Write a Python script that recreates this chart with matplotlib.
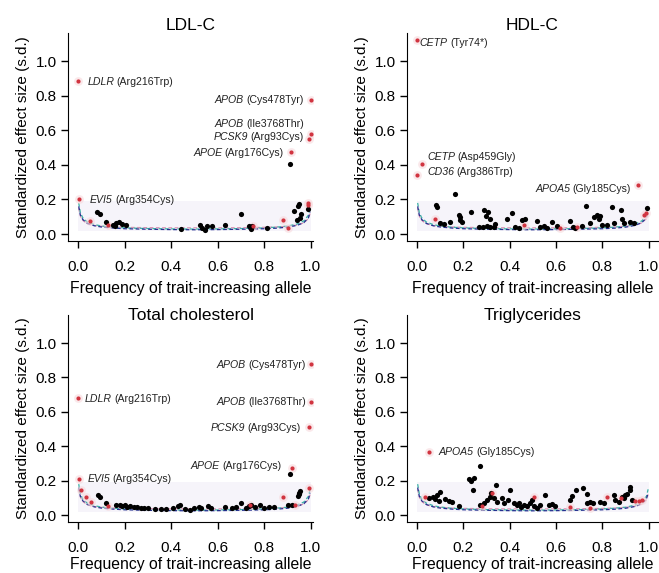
#!/usr/bin/env python3
import numpy as np
import matplotlib
matplotlib.use("Agg")
import matplotlib.pyplot as plt

plt.rcParams['font.family'] = ['Liberation Sans', 'DejaVu Sans']

# detection threshold curves
curve_x = [0.003, 0.01, 0.02, 0.04, 0.07, 0.1, 0.15, 0.2, 0.3, 0.4, 0.5,
           0.6, 0.7, 0.8, 0.85, 0.9, 0.94, 0.97, 0.99, 0.997]
curve_blue = [0.16, 0.11, 0.085, 0.062, 0.048, 0.041, 0.035, 0.031, 0.028, 0.026, 0.025,
              0.026, 0.028, 0.031, 0.034, 0.04, 0.05, 0.066, 0.095, 0.13]
curve_teal = [0.18, 0.125, 0.095, 0.07, 0.055, 0.047, 0.04, 0.036, 0.032, 0.03, 0.029,
              0.03, 0.032, 0.036, 0.04, 0.046, 0.058, 0.076, 0.11, 0.15]
curve_pink = [0.15, 0.105, 0.08, 0.06, 0.05, 0.045, 0.041, 0.039, 0.037, 0.036, 0.036,
              0.036, 0.037, 0.039, 0.041, 0.045, 0.052, 0.065, 0.09, 0.12]

# LDL-C
ldl_bx = [0.083, 0.094, 0.12, 0.15, 0.158, 0.165, 0.177, 0.19, 0.206, 0.443, 0.525, 0.532,
          0.547, 0.554, 0.576, 0.633, 0.698, 0.734, 0.741, 0.748, 0.813, 0.928, 0.945,
          0.95, 0.957, 0.942, 0.953, 0.988, 0.91]
ldl_by = [0.13, 0.118, 0.07, 0.054, 0.044, 0.064, 0.07, 0.058, 0.054, 0.03, 0.054, 0.034,
          0.024, 0.044, 0.048, 0.05, 0.118, 0.044, 0.03, 0.044, 0.038, 0.134, 0.164,
          0.174, 0.118, 0.084, 0.094, 0.144, 0.405]
ldl_rx = [0.0, 1.0, 1.0, 0.99, 0.914, 0.003, 0.05, 0.127, 0.752, 0.882, 0.9, 0.988, 0.988]
ldl_ry = [0.885, 0.775, 0.58, 0.547, 0.472, 0.202, 0.074, 0.05, 0.048, 0.084, 0.038, 0.18, 0.168]
ldl_labels = [('LDLR', 'Arg216Trp', 0.04, 0.88, 'left'),
              ('APOB', 'Cys478Tyr', 0.97, 0.775, 'right'),
              ('APOB', 'Ile3768Thr', 0.97, 0.636, 'right'),
              ('PCSK9', 'Arg93Cys', 0.97, 0.562, 'right'),
              ('APOE', 'Arg176Cys', 0.884, 0.467, 'right'),
              ('EVI5', 'Arg354Cys', 0.052, 0.198, 'left')]

# HDL-C
hdl_bx = [0.165, 0.083, 0.086, 0.098, 0.115, 0.144, 0.18, 0.187, 0.194, 0.184, 0.233, 0.29,
          0.305, 0.299, 0.314, 0.338, 0.266, 0.285, 0.302, 0.317, 0.331, 0.388, 0.41, 0.424,
          0.439, 0.453, 0.468, 0.518, 0.532, 0.547, 0.561, 0.583, 0.604, 0.662, 0.673,
          0.683, 0.712, 0.727, 0.748, 0.763, 0.777, 0.784, 0.791, 0.799, 0.82, 0.842,
          0.849, 0.878, 0.885, 0.892, 0.921, 0.935, 0.993]
hdl_by = [0.229, 0.167, 0.154, 0.062, 0.058, 0.071, 0.11, 0.081, 0.071, 0.096, 0.125, 0.142,
          0.129, 0.104, 0.085, 0.058, 0.042, 0.042, 0.046, 0.042, 0.042, 0.085, 0.119, 0.042,
          0.033, 0.081, 0.09, 0.077, 0.042, 0.046, 0.033, 0.069, 0.046, 0.075, 0.042,
          0.033, 0.046, 0.162, 0.065, 0.1, 0.11, 0.09, 0.104, 0.052, 0.052, 0.154,
          0.062, 0.138, 0.085, 0.062, 0.071, 0.062, 0.148]
hdl_rx = [0.0, 0.021, 0.0, 0.953, 0.079, 0.46, 0.616, 0.69, 0.978, 0.986]
hdl_ry = [1.12, 0.403, 0.342, 0.284, 0.09, 0.052, 0.037, 0.042, 0.11, 0.119]
hdl_labels = [('CETP', 'Tyr74*', 0.011, 1.106, 'left'),
              ('CETP', 'Asp459Gly', 0.043, 0.443, 'left'),
              ('CD36', 'Arg386Trp', 0.043, 0.356, 'left'),
              ('APOA5', 'Gly185Cys', 0.924, 0.258, 'right')]

# Total cholesterol
tc_bx = [0.086, 0.093, 0.122, 0.165, 0.18, 0.19, 0.2, 0.21, 0.225, 0.24, 0.255, 0.27, 0.285,
         0.3, 0.33, 0.355, 0.38, 0.41, 0.43, 0.44, 0.46, 0.48, 0.5, 0.52, 0.53, 0.56, 0.57,
         0.63, 0.66, 0.68, 0.70, 0.72, 0.735, 0.745, 0.76, 0.78, 0.8, 0.82, 0.84, 0.9,
         0.92, 0.945, 0.95, 0.955, 0.95, 0.91]
tc_by = [0.117, 0.107, 0.068, 0.058, 0.06, 0.052, 0.06, 0.05, 0.052, 0.046, 0.048, 0.042, 0.04,
         0.044, 0.038, 0.035, 0.038, 0.042, 0.052, 0.056, 0.038, 0.03, 0.042, 0.05, 0.042, 0.052,
         0.042, 0.05, 0.04, 0.045, 0.07, 0.04, 0.055, 0.06, 0.05, 0.06, 0.04, 0.05, 0.05, 0.06,
         0.06, 0.11, 0.13, 0.14, 0.12, 0.241]
tc_rx = [0.0, 1.0, 1.0, 0.99, 0.917, 0.003, 0.014, 0.036, 0.057, 0.13, 0.74, 0.88, 0.93, 0.99]
tc_ry = [0.68, 0.878, 0.66, 0.511, 0.274, 0.208, 0.146, 0.107, 0.078, 0.055, 0.06, 0.107, 0.058,
         0.155]
tc_labels = [('LDLR', 'Arg216Trp', 0.03, 0.676, 'left'),
             ('APOB', 'Cys478Tyr', 0.978, 0.874, 'right'),
             ('APOB', 'Ile3768Thr', 0.978, 0.656, 'right'),
             ('PCSK9', 'Arg93Cys', 0.958, 0.506, 'right'),
             ('APOE', 'Arg176Cys', 0.874, 0.284, 'right'),
             ('EVI5', 'Arg354Cys', 0.04, 0.207, 'left')]

# Triglycerides
tg_bx = [0.273, 0.223, 0.233, 0.245, 0.242, 0.342, 0.4, 0.05, 0.068, 0.079, 0.086, 0.098,
         0.094, 0.122, 0.137, 0.151, 0.18, 0.273, 0.288, 0.302, 0.319, 0.314, 0.331, 0.345,
         0.367, 0.377, 0.391, 0.417, 0.432, 0.439, 0.449, 0.46, 0.475, 0.489, 0.504, 0.518,
         0.532, 0.554, 0.568, 0.583, 0.594, 0.496, 0.662, 0.669, 0.688, 0.717, 0.734,
         0.748, 0.76, 0.734, 0.791, 0.806, 0.849, 0.856, 0.871, 0.885, 0.892, 0.899, 0.906,
         0.918, 0.921, 0.928]
tg_by = [0.286, 0.207, 0.197, 0.213, 0.145, 0.174, 0.145, 0.1, 0.103, 0.093, 0.116, 0.132,
         0.081, 0.091, 0.081, 0.077, 0.052, 0.058, 0.068, 0.087, 0.126, 0.103, 0.097, 0.077,
         0.097, 0.068, 0.087, 0.068, 0.058, 0.068, 0.048, 0.058, 0.052, 0.068, 0.052, 0.044,
         0.058, 0.116, 0.058, 0.064, 0.052, 0.087, 0.087, 0.11, 0.145, 0.155, 0.122,
         0.077, 0.071, 0.071, 0.077, 0.068, 0.116, 0.087, 0.077, 0.103, 0.097, 0.116, 0.122,
         0.164, 0.145, 0.087]
tg_rx = [0.05, 0.036, 0.324, 0.28, 0.504, 0.662, 0.748, 0.82, 0.878, 0.942, 0.957, 0.971]
tg_ry = [0.367, 0.103, 0.13, 0.052, 0.106, 0.048, 0.039, 0.103, 0.097, 0.083, 0.081, 0.087]
tg_labels = [('APOA5', 'Gly185Cys', 0.093, 0.367, 'left')]

# title, data, axes box, right x limit, title height, x label pad
panels = [
    ('LDL-C', ldl_bx, ldl_by, ldl_rx, ldl_ry, ldl_labels, [0.1032, 0.5794, 0.372, 0.363], 1.01, 1.038, 5),
    ('HDL-C', hdl_bx, hdl_by, hdl_rx, hdl_ry, hdl_labels, [0.6176, 0.5794, 0.381, 0.363], 1.04, 1.038, 5),
    ('Total cholesterol', tc_bx, tc_by, tc_rx, tc_ry, tc_labels, [0.1032, 0.089, 0.372, 0.361], 1.01, 1.0, 1),
    ('Triglycerides', tg_bx, tg_by, tg_rx, tg_ry, tg_labels, [0.6176, 0.089, 0.381, 0.361], 1.04, 1.0, 1),
]

LABEL_SIZE = 7.6


def put_label(ax, gene, change, tx, ty, ha):
	"""
	Italic gene name followed by the amino acid change in brackets
	"""
	if ha == 'left':
		t = ax.text(tx, ty, gene, fontsize=LABEL_SIZE, style='italic', ha='left', va='center', color='#222222')
		ax.annotate('(%s)' % change, xy=(1, 0.5), xycoords=t, xytext=(1.8, 0), textcoords='offset points',
					fontsize=LABEL_SIZE, ha='left', va='center', color='#222222')
	else:
		t = ax.text(tx, ty, '(%s)' % change, fontsize=LABEL_SIZE, ha='right', va='center', color='#222222')
		ax.annotate(gene, xy=(0, 0.5), xycoords=t, xytext=(-1.8, 0), textcoords='offset points',
					fontsize=LABEL_SIZE, style='italic', ha='right', va='center', color='#222222')


def draw_panel(fig, title, bx, by, rx, ry, labels, pos, xmax, title_y, xpad):
	"""
	One scatter panel with threshold curves and labelled variants
	"""
	ax = fig.add_axes(pos)
	ax.fill_between([0.0, 1.0], 0.02, 0.19, color='#f6f4fa', lw=0, zorder=0)
	ax.plot(curve_x, curve_pink, ls=(0, (3, 2)), color='#d98fb0', lw=0.9, zorder=1)
	ax.plot(curve_x, curve_teal, ls=(0, (3, 2)), color='#3bb3a6', lw=0.9, zorder=1)
	ax.plot(curve_x, curve_blue, ls=(0, (3, 2)), color='#23308f', lw=0.9, zorder=1)
	ax.scatter(bx, by, s=14, color='black', lw=0, zorder=3)
	ax.scatter(rx, ry, s=40, color='#f7d9dc', lw=0, alpha=0.6, zorder=2)
	ax.scatter(rx, ry, s=9, color='#d13440', lw=0, zorder=4)
	for gene, change, tx, ty, ha in labels:
		put_label(ax, gene, change, tx, ty, ha)
	ax.set_xlim(-0.043, xmax)
	ax.set_ylim(-0.04, 1.162)
	ax.set_xticks(np.arange(0, 1.01, 0.2))
	ax.set_yticks(np.arange(0, 1.01, 0.2))
	ax.xaxis.set_major_formatter(plt.FormatStrFormatter('%.1f'))
	ax.yaxis.set_major_formatter(plt.FormatStrFormatter('%.1f'))
	ax.spines['top'].set_visible(False)
	ax.spines['right'].set_visible(False)
	ax.tick_params(direction='out', length=5, width=1, labelsize=11, pad=3)
	ax.tick_params(axis='x', pad=9)
	ax.set_title(title, fontsize=12.5, y=title_y, pad=0, va='center')
	ax.set_xlabel('Frequency of trait-increasing allele', fontsize=11.3, labelpad=xpad)
	ax.set_ylabel('Standardized effect size (s.d.)', fontsize=11, labelpad=4)
	return ax


fig = plt.figure(figsize=(6.59, 5.73), dpi=100)
for title, bx, by, rx, ry, labels, pos, xmax, title_y, xpad in panels:
	draw_panel(fig, title, bx, by, rx, ry, labels, pos, xmax, title_y, xpad)

fig.savefig('out.png', dpi=100)
